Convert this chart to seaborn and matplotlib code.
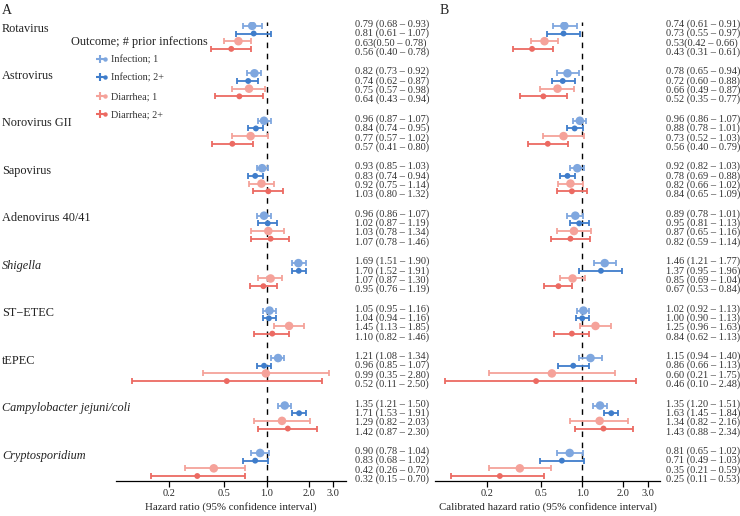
import matplotlib
matplotlib.use("Agg")
import matplotlib.pyplot as plt
import seaborn as sns
import numpy as np
import pandas as pd
from matplotlib.lines import Line2D
from matplotlib.legend_handler import HandlerTuple
from matplotlib.transforms import blended_transform_factory

# ---- data ----
pathogens = ['Rotavirus', 'Astrovirus', 'Norovirus GII', 'Sapovirus', 'Adenovirus 40/41',
             'Shigella', 'ST\u2212ETEC', 'tEPEC', 'Campylobacter jejuni/coli', 'Cryptosporidium']
italic_pathogens = ['Shigella', 'Campylobacter jejuni/coli', 'Cryptosporidium']
outcomes = ['Infection; 1', 'Infection; 2+', 'Diarrhea; 1', 'Diarrhea; 2+']

# panel A: hazard ratio; rows = pathogen, columns = outcome
hr_a = [[0.79, 0.81, 0.63, 0.56], [0.82, 0.74, 0.75, 0.64], [0.96, 0.84, 0.77, 0.57],
        [0.93, 0.83, 0.92, 1.03], [0.96, 1.02, 1.03, 1.07], [1.69, 1.70, 1.07, 0.95],
        [1.05, 1.04, 1.45, 1.10], [1.21, 0.96, 0.99, 0.52], [1.35, 1.71, 1.29, 1.42],
        [0.90, 0.83, 0.42, 0.32]]
lo_a = [[0.68, 0.61, 0.50, 0.40], [0.73, 0.62, 0.57, 0.43], [0.87, 0.74, 0.57, 0.41],
        [0.85, 0.74, 0.75, 0.80], [0.86, 0.87, 0.78, 0.78], [1.51, 1.52, 0.87, 0.76],
        [0.95, 0.94, 1.13, 0.82], [1.08, 0.85, 0.35, 0.11], [1.21, 1.53, 0.82, 0.87],
        [0.78, 0.68, 0.26, 0.15]]
hi_a = [[0.93, 1.07, 0.78, 0.78], [0.92, 0.87, 0.98, 0.94], [1.07, 0.95, 1.02, 0.80],
        [1.03, 0.94, 1.14, 1.32], [1.07, 1.19, 1.34, 1.46], [1.90, 1.91, 1.30, 1.19],
        [1.16, 1.16, 1.85, 1.46], [1.34, 1.07, 2.80, 2.50], [1.50, 1.91, 2.03, 2.30],
        [1.04, 1.02, 0.70, 0.70]]

# panel B: calibrated hazard ratio
hr_b = [[0.74, 0.73, 0.53, 0.43], [0.78, 0.72, 0.66, 0.52], [0.96, 0.88, 0.73, 0.56],
        [0.92, 0.78, 0.82, 0.84], [0.89, 0.95, 0.87, 0.82], [1.46, 1.37, 0.85, 0.67],
        [1.02, 1.00, 1.25, 0.84], [1.15, 0.86, 0.60, 0.46], [1.35, 1.63, 1.34, 1.43],
        [0.81, 0.71, 0.35, 0.25]]
lo_b = [[0.61, 0.55, 0.42, 0.31], [0.65, 0.60, 0.49, 0.35], [0.86, 0.78, 0.52, 0.40],
        [0.82, 0.69, 0.66, 0.65], [0.78, 0.81, 0.65, 0.59], [1.21, 0.95, 0.69, 0.53],
        [0.92, 0.90, 0.96, 0.62], [0.94, 0.66, 0.21, 0.10], [1.20, 1.45, 0.82, 0.88],
        [0.65, 0.49, 0.21, 0.11]]
hi_b = [[0.91, 0.97, 0.66, 0.61], [0.94, 0.88, 0.87, 0.77], [1.07, 1.01, 1.03, 0.79],
        [1.03, 0.88, 1.02, 1.09], [1.01, 1.13, 1.16, 1.14], [1.77, 1.96, 1.04, 0.84],
        [1.13, 1.13, 1.63, 1.13], [1.40, 1.13, 1.75, 2.48], [1.51, 1.84, 2.16, 2.34],
        [1.02, 1.03, 0.59, 0.53]]

# labels printed without a space before the bracket in the original
no_space = [(0, 2)]

xticks = [0.2, 0.5, 1.0, 2.0, 3.0]
xtick_labels = ['0.2', '0.5', '1.0', '2.0', '3.0']

colors = ['#7fa7df', '#3f7dcb', '#f5a29a', '#ec6a62']
sizes = [38, 18, 38, 18]

# ---- layout helpers ----
GROUP_STEP = 6.18
TEXT_STEP = 1.22


def long_table(hr, lo, hi):
    rows = []
    for g, name in enumerate(pathogens):
        for r, outc in enumerate(outcomes):
            rows.append({'pathogen': name, 'outcome': outc, 'hr': hr[g][r],
                         'lo': lo[g][r], 'hi': hi[g][r], 'y': g * GROUP_STEP + r})
    return pd.DataFrame(rows)


sns.set_theme(style="white")
plt.rcParams['font.family'] = ['Liberation Serif', 'DejaVu Serif']

fig = plt.figure(figsize=(7.4, 5.16), dpi=100)
ax_a = fig.add_axes([116 / 740, 35 / 516, 230 / 740, 459 / 516])
ax_b = fig.add_axes([435 / 740, 35 / 516, 225 / 740, 459 / 516])


def draw_panel(ax, df, text_x, xlabel):
    ax.axvline(1.0, color='black', lw=1.0, dashes=(4, 4), zorder=1)
    for outc, col in zip(outcomes, colors):
        sub = df[df['outcome'] == outc]
        ax.errorbar(sub['hr'], sub['y'], xerr=[sub['hr'] - sub['lo'], sub['hi'] - sub['hr']],
                    fmt='none', ecolor=col, elinewidth=1.3, capsize=2.2, capthick=1.3, zorder=2)
    sns.scatterplot(data=df, x='hr', y='y', hue='outcome', palette=dict(zip(outcomes, colors)),
                    size='outcome', sizes=dict(zip(outcomes, sizes)), edgecolor='none',
                    legend=False, ax=ax, zorder=3)
    ax.set_xscale('log')
    ax.set_xlim(0.084, 3.7)
    ax.set_ylim(59.27, -0.5)
    ax.set_xticks(xticks)
    ax.set_xticklabels(xtick_labels)
    ax.minorticks_off()
    ax.set_yticks([])
    ax.set_ylabel('')
    ax.set_xlabel(xlabel, fontsize=7.8, labelpad=2.5)
    for s in ['left', 'right', 'top']:
        ax.spines[s].set_visible(False)
    ax.spines['bottom'].set_linewidth(0.9)
    ax.spines['bottom'].set_color('black')
    ax.tick_params(axis='x', direction='out', length=4, width=0.9, color='black',
                   labelsize=7.4, pad=2, bottom=True)
    ax.patch.set_alpha(0)

    trans = blended_transform_factory(fig.transFigure, ax.transData)
    for _, row in df.iterrows():
        g = pathogens.index(row['pathogen'])
        r = outcomes.index(row['outcome'])
        sep = '' if (g, r) in no_space else ' '
        label = f"{row['hr']:.2f}{sep}({row['lo']:.2f} \u2013 {row['hi']:.2f})"
        ty = g * GROUP_STEP + 1.6 + (r - 1.5) * TEXT_STEP
        ax.text(text_x, ty, label, transform=trans, ha='left', va='center',
                fontsize=7.5, color='#333333', clip_on=False)


df_a = long_table(hr_a, lo_a, hi_a)
df_b = long_table(hr_b, lo_b, hi_b)
draw_panel(ax_a, df_a, 355 / 740, 'Hazard ratio (95% confidence interval)')
draw_panel(ax_b, df_b, 666 / 740, 'Calibrated hazard ratio (95% confidence interval)')

# pathogen names on the left of panel A
lab_trans = blended_transform_factory(fig.transFigure, ax_a.transData)
for g, name in enumerate(pathogens):
    ax_a.text(2 / 740, g * GROUP_STEP + 0.35, name, transform=lab_trans, ha='left', va='center',
              fontsize=8.8, color='#222222', style='italic' if name in italic_pathogens else 'normal',
              clip_on=False)

fig.text(2 / 740, 1 - 10 / 516, 'A', fontsize=10, va='center', ha='left', color='#222222')
fig.text(440 / 740, 1 - 10 / 516, 'B', fontsize=10, va='center', ha='left', color='#222222')

# legend: title as plain text, entries as a legend below it
fig.text(71 / 740, 1 - 42 / 516, 'Outcome; # prior infections', fontsize=8.8,
         va='center', ha='left', color='#222222')
handles = [(Line2D([], [], marker='+', ms=6, mew=1.5, color=c, ls=''),
            Line2D([], [], marker='o', ms=3.2, color=c, ls='', mec='none'))
           for c in colors]
leg = fig.legend(handles, outcomes, handler_map={tuple: HandlerTuple(ndivide=None)},
                 loc='upper left', bbox_to_anchor=(97 / 740, 1 - 55 / 516), frameon=False,
                 prop={'size': 7.3}, handlelength=1.0, handletextpad=0.4,
                 labelspacing=0.92, borderpad=0.0, borderaxespad=0.0)
for t in leg.get_texts():
    t.set_color('#333333')

fig.savefig('out.png', dpi=100)
